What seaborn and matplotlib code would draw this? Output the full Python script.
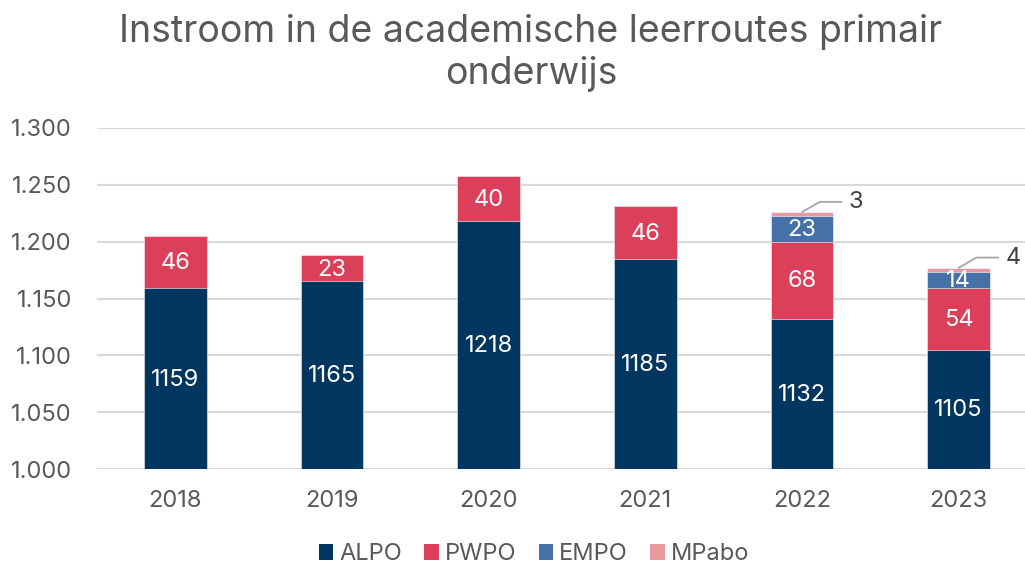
import matplotlib
matplotlib.use("Agg")
import matplotlib.pyplot as plt
import seaborn as sns
import numpy as np
import pandas as pd
from matplotlib.patches import Patch

years = ["2018", "2019", "2020", "2021", "2022", "2023"]
alpo = [1159, 1165, 1218, 1185, 1132, 1105]
pwpo = [46, 23, 40, 46, 68, 54]
empo = [0, 0, 0, 0, 23, 14]
mpabo = [0, 0, 0, 0, 3, 4]
series_names = ["ALPO", "PWPO", "EMPO", "MPabo"]
colors = ["#003660", "#DC3F5A", "#4472A8", "#E8999F"]
yticks = [1000, 1050, 1100, 1150, 1200, 1250, 1300]
ytick_labels = ["1.000", "1.050", "1.100", "1.150", "1.200", "1.250", "1.300"]
title = "Instroom in de academische leerroutes primair\nonderwijs"

sns.set_theme(style="white")
plt.rcParams['font.family'] = ['Inter', 'DejaVu Sans']

grey = "#595959"
fig = plt.figure(figsize=(10.25, 5.65), dpi=100)
ax = fig.add_axes([97/1025, 96/565, 940/1025, 341/565])

layers = [alpo, pwpo, empo, mpabo]
cums = np.cumsum(np.array(layers), axis=0)
df = pd.DataFrame({"year": years})
# draw tallest stack first so lower segments overdraw
for i in range(3, -1, -1):
    df["val"] = cums[i]
    sns.barplot(data=df, x="year", y="val", color=colors[i], saturation=1,
                width=0.4, errorbar=None, ax=ax, zorder=3,
                edgecolor="white", linewidth=0.4)

ymin, ymax = 1000, 1300
ax.set_ylim(ymin, ymax)
ax.set_xlim(-0.5, 5.5)
ax.set_yticks(yticks)
ax.set_yticklabels(ytick_labels)
ax.set_xlabel("")
ax.set_ylabel("")
for s in ax.spines.values():
    s.set_visible(False)
ax.grid(axis="y", color="#D9D9D9", linewidth=1.5, zorder=0)
ax.set_axisbelow(True)
ax.tick_params(axis="both", length=0, labelsize=17, labelcolor=grey)
ax.tick_params(axis="y", pad=18)
ax.tick_params(axis="x", pad=15)

# data labels
for j in range(len(years)):
    bottom = 0
    for i in range(4):
        v = layers[i][j]
        top = bottom + v
        if v >= 10:
            vis_bottom = max(bottom, ymin)
            yc = (vis_bottom + top) / 2 - 1
            ax.text(j, yc, str(v), ha="center", va="center", color="white",
                    fontsize=17, zorder=5)
        elif v > 0:
            # callout label with leader line
            ax.annotate(str(v), xy=(j, top), xytext=(j + 0.3, top + 9),
                        ha="left", va="center", fontsize=17, color="#404040",
                        arrowprops=dict(arrowstyle="-", color="#A6A6A6", lw=1.3,
                                        connectionstyle="angle,angleA=0,angleB=30,rad=0",
                                        shrinkA=3, shrinkB=0),
                        zorder=5, annotation_clip=False)
        bottom = top

fig.text(0.518, 0.975, title, ha="center", va="top", fontsize=27,
         color=grey, linespacing=1.2)

handles = [Patch(facecolor=c, edgecolor="none") for c in colors]
fig.legend(handles, series_names, loc="center", bbox_to_anchor=(0.521, 0.019),
           ncol=4, frameon=False, fontsize=17, labelcolor=grey,
           handlelength=0.62, handleheight=0.62, handletextpad=0.25,
           columnspacing=0.95)

fig.savefig("out.png", dpi=100)
